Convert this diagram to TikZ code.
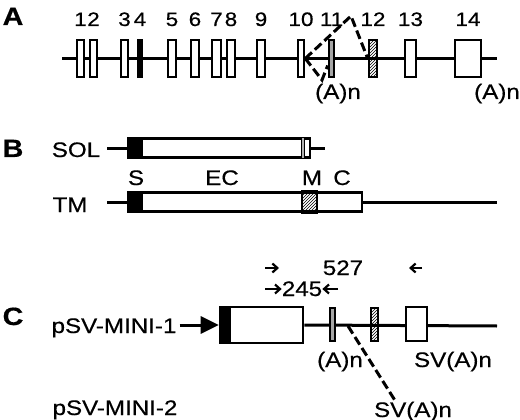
\documentclass[tikz,border=0pt]{standalone}
\usepackage{fontspec}
\setmainfont{Liberation Sans}[FakeStretch=1.15,FakeBold=0.5]
\usepackage{tikz}
\usetikzlibrary{arrows.meta,patterns,calc}
\tikzset{
  backbone/.style={line width=3pt},
  exon/.style={draw,line width=2.6pt,fill=white,inner sep=0pt,minimum height=37pt},
  bar/.style={draw,line width=2.6pt,fill=white,inner sep=0pt,minimum height=19pt},
  splice/.style={line width=3pt,dash pattern=on 9pt off 4pt},
  primer/.style={-{Straight Barb[length=5pt,width=9pt]},line width=2.2pt},
  panel/.style={font=\fontsize{25}{25}\selectfont\bfseries,anchor=base,inner sep=0pt},
  lbl/.style={font=\fontsize{21}{21}\selectfont,anchor=base,inner sep=0pt},
  num/.style={font=\fontsize{19.5}{19.5}\selectfont,anchor=base,inner sep=0pt},
}

\begin{document}
\begin{tikzpicture}[x=1pt,y=-1pt]
\useasboundingbox (0,0) rectangle (520,420);
% A: gene structure
\node[panel] (pa) at (13,25) {A};
\coordinate (numrow) at (0,26);
\draw[backbone] (62,59) -- (497,59);
\foreach \n/\x/\w in {1/80.5/7,2/93.5/7,3/124.5/7,5/172/8,6/195/8,7/216.5/9,%
    8/231/8,9/261/8,10/301/6,13/410.5/11,14/468/26}
  \node[exon,minimum width=\w pt] (e\n) at (\x,58.5) {};
\node[exon,minimum width=4pt,fill=black] (e4) at (140,58.5) {};
\node[exon,minimum width=5pt,fill=gray!70] (e11) at (331.5,58.5) {};
\node[exon,minimum width=8pt,pattern=north east lines] (e12) at (373,58.5) {};
\foreach \n in {1,...,14}
  \node[num] (n\n) at (e\n.center |- numrow) {\n};
\coordinate (peak) at (351,16);
\coordinate (vtip) at (322,80);
\draw[splice] (e10.east) -- (peak) -- (e12.west);
\draw[splice] (e10.east) -- (vtip) -- ($(e11.west)+(0,7)$);
\node[lbl] (pa1) at (338,99) {(A)n};
\node[lbl] (pa2) at (497,99) {(A)n};

% B: protein forms
\node[panel] (pb) at (13,157) {B};
\node[lbl] (sol-l) at (76,157) {SOL};
\node[bar,minimum width=182pt] (sol) at (219,148) {};
\draw[backbone] (107,148) -- (sol.west);
\draw[backbone] (sol.east) -- (325,148);
\fill (sol.north west) rectangle ($(sol.south west)+(16,0)$);
\draw[line width=1pt,fill=gray!60] ($(sol.north west)+(175,0)$) rectangle ($(sol.south west)+(178,0)$);
\node[lbl] (tm-l) at (70,212) {TM};
\node[bar,minimum width=234pt] (tm) at (245,202) {};
\draw[backbone] (107,202) -- (tm.west);
\draw[backbone] (tm.east) -- (497,202);
\fill (tm.north west) rectangle ($(tm.south west)+(16,0)$);
\draw[line width=2pt,pattern=north east lines] ($(tm.north west)+(175,0)$) rectangle ($(tm.south west)+(190,0)$);
\node[lbl] (s) at (136,185) {S};
\node[lbl] (ec) at (222,185) {EC};
\node[lbl] (m) at (312,185) {M};
\node[lbl] (c) at (342,185) {C};

% C: minigene constructs
\node[panel] (pc) at (13,325) {C};
\node[lbl] (mini1) at (114,333) {pSV-MINI-1};
\node[lbl] (mini2) at (115,415) {pSV-MINI-2};
\node[bar,minimum width=83pt,minimum height=36pt] (mx) at (261.5,325) {};
\fill (mx.north west) rectangle ($(mx.south west)+(12,0)$);
\draw[backbone,-{Triangle[length=18pt,width=17pt]}] (mini1.east |- mx.west) ++(3,0) -- (mx.west);
\draw[backbone] (mx.east) -- (497,326);
\node[exon,minimum width=5pt,minimum height=33pt,fill=gray!70] (m11) at (332.5,324.5) {};
\node[exon,minimum width=7pt,minimum height=33pt,pattern=north east lines] (m12) at (374.5,324.5) {};
\node[exon,minimum width=21pt,minimum height=34pt] (m13) at (416.5,324) {};
\node[lbl] (pa3) at (340,367) {(A)n};
\node[lbl] (sv1) at (453,367) {SV(A)n};
\node[lbl] (sv2) at (413,417) {SV(A)n};
\coordinate (cut) at (348,326);
\draw[splice] (cut) -- (sv2.150);
\node[lbl] (p527) at (343,275) {527};
\node[lbl] (p245) at (302,296) {245};
\draw[primer] (265,268) -- (279,268);
\draw[primer] (422,268) -- (409,268);
\draw[primer] (265,289) -- (p245.west |- 0,289);
\draw[primer] (338,289) -- (p245.east |- 0,289);
\end{tikzpicture}
\end{document}
